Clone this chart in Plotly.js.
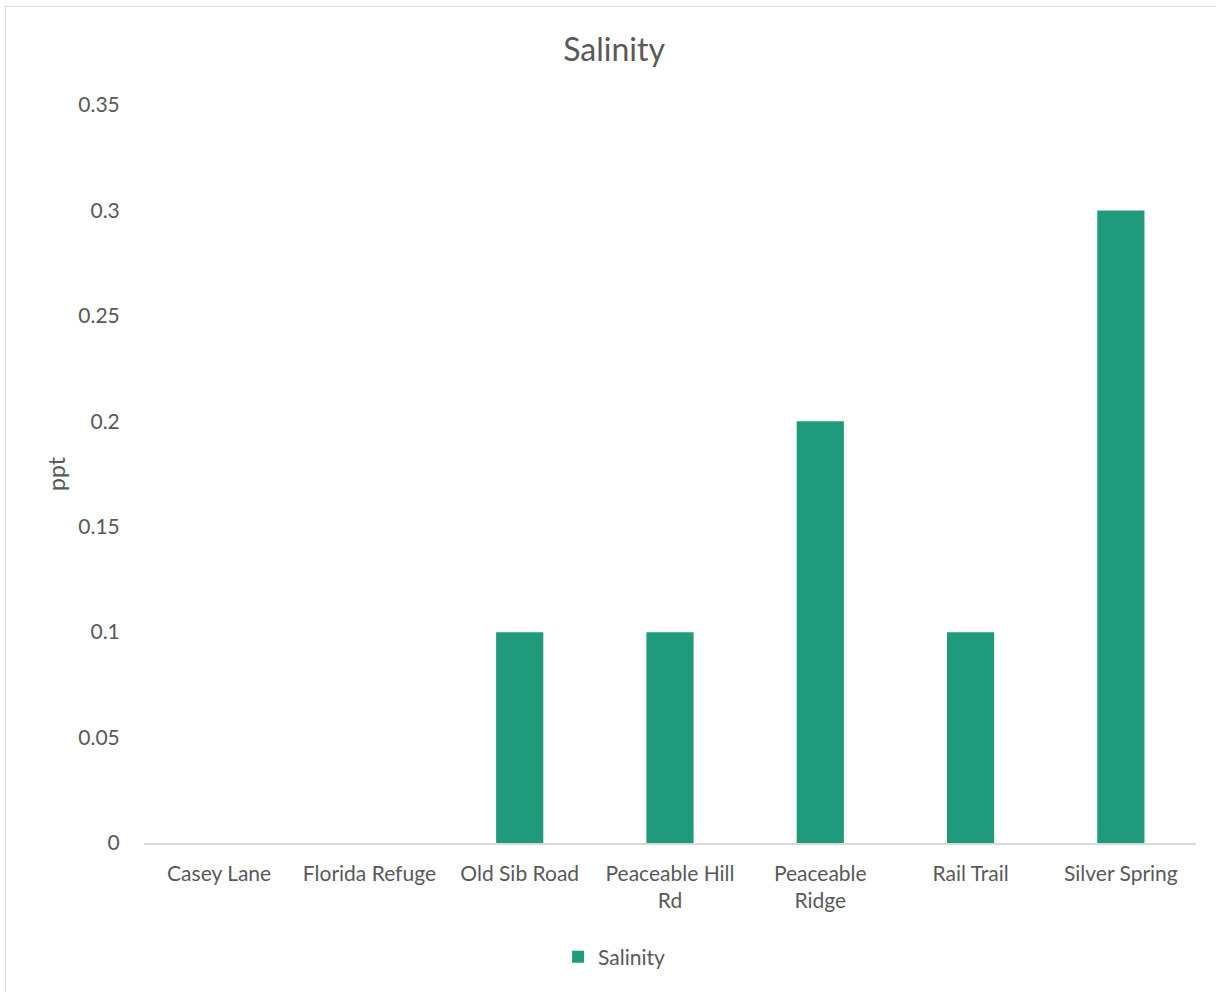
<!DOCTYPE html>
<html>
<head>
<meta charset="utf-8">
<script src="https://cdn.plot.ly/plotly-3.0.1.min.js"></script>
<style>
  html, body { margin: 0; padding: 0; background: #ffffff; }
  #wrap { position: relative; width: 1216px; height: 992px; overflow: hidden; }
  #frame { position: absolute; left: 5px; top: 6px; width: 1230px; height: 1000px;
           border: 1px solid #d9d9d9; box-sizing: border-box; pointer-events: none; }
  #chart { position: absolute; left: 0; top: 0; width: 1216px; height: 992px; }
</style>
</head>
<body>
<div id="wrap">
  <div id="chart"></div>
  <div id="frame"></div>
</div>
<script>
// Sampling sites and measured salinity (ppt)
const sites = ["Casey Lane", "Florida Refuge", "Old Sib Road", "Peaceable Hill Rd",
               "Peaceable Ridge", "Rail Trail", "Silver Spring"];
const siteLabels = ["Casey Lane", "Florida Refuge", "Old Sib Road", "Peaceable Hill<br>Rd",
                    "Peaceable<br>Ridge", "Rail Trail", "Silver Spring"];
const salinity = [0, 0, 0.1, 0.1, 0.2, 0.1, 0.3];
const yTicks = [0, 0.05, 0.1, 0.15, 0.2, 0.25, 0.3, 0.35];
const yTickText = ["0", "0.05", "0.1", "0.15", "0.2", "0.25", "0.3", "0.35"];

const FONT = "Lato, Carlito, Calibri, 'Open Sans', sans-serif";
const TEXT = "#595959";

const trace = {
  type: "bar",
  name: "Salinity",
  x: sites,
  y: salinity,
  marker: { color: "#1f9b7b", line: { width: 0 } },
  hoverinfo: "x+y"
};

const layout = {
  width: 1216,
  height: 992,
  margin: { l: 144, r: 20, t: 105, b: 149 },
  paper_bgcolor: "rgba(0,0,0,0)",
  plot_bgcolor: "#ffffff",
  font: { family: FONT, color: TEXT, size: 21 },
  title: {
    text: "Salinity",
    font: { family: FONT, size: 32, color: TEXT },
    xref: "container", x: 0.505, xanchor: "center",
    yref: "container", y: 1 - 50 / 992, yanchor: "middle"
  },
  bargap: 0.686,
  xaxis: {
    type: "category",
    tickmode: "array",
    tickvals: sites,
    ticktext: siteLabels,
    showgrid: false,
    zeroline: false,
    showline: true,
    linecolor: "#d9d9d9",
    linewidth: 1.5,
    ticks: "outside",
    ticklen: 11,
    tickcolor: "rgba(0,0,0,0)",
    tickfont: { family: FONT, size: 21, color: TEXT }
  },
  yaxis: {
    range: [0, 0.35],
    tickmode: "array",
    tickvals: yTicks,
    ticktext: yTickText,
    showgrid: false,
    zeroline: false,
    showline: false,
    ticks: "outside",
    ticklen: 19,
    tickcolor: "rgba(0,0,0,0)",
    tickfont: { family: FONT, size: 21, color: TEXT },
    title: { text: "ppt", font: { family: FONT, size: 23, color: TEXT }, standoff: 6 }
  },
  showlegend: true,
  legend: {
    orientation: "h",
    xref: "container", x: 0.505, xanchor: "center",
    yref: "container", y: 1 - 957 / 992, yanchor: "middle",
    font: { family: FONT, size: 21, color: TEXT },
    itemwidth: 30,
    bgcolor: "rgba(0,0,0,0)"
  }
};

Plotly.newPlot("chart", [trace], layout, { displayModeBar: false, staticPlot: true });
</script>
</body>
</html>
